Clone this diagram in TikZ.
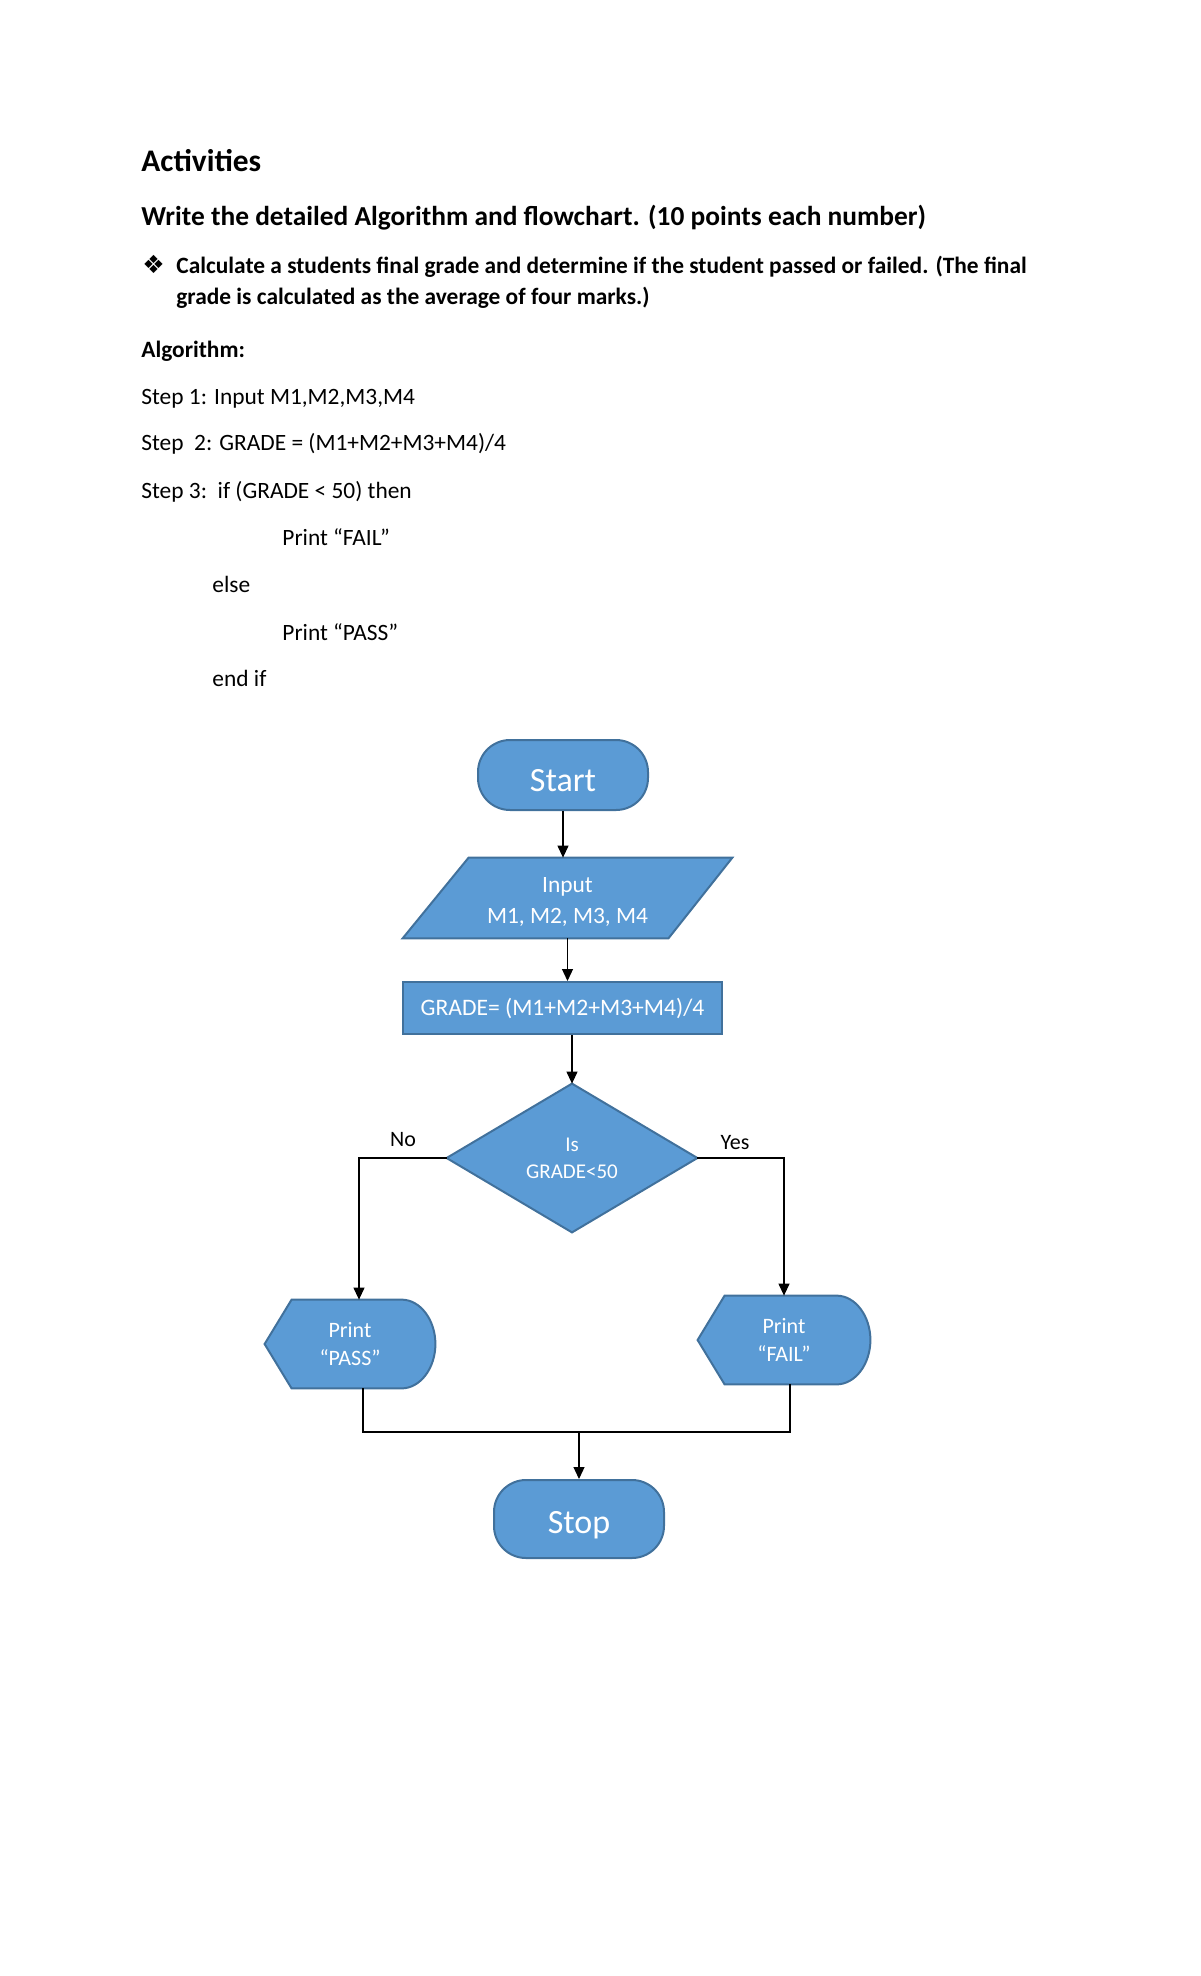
\documentclass[tikz,border=0pt]{standalone}
\usepackage{fontspec}
\setmainfont{Carlito}
\newfontfamily\dejavu{DejaVu Sans}
\usetikzlibrary{calc,arrows.meta}
\definecolor{boxfill}{HTML}{5B9BD5}
\definecolor{boxline}{HTML}{41719C}
\begin{document}
\begin{tikzpicture}[x=0.5pt,y=-0.5pt,
  txt/.style={anchor=base west,inner sep=0pt,font=\fontsize{11.7}{14}\selectfont},
  btxt/.style={txt,font=\fontsize{11.7}{14}\selectfont\bfseries},
  shapebox/.style={fill=boxfill,draw=boxline,line width=1pt},
  hold/.style={draw=none,inner sep=0pt,text=white,align=center},
  term/.style={shapebox,rounded corners=16pt,inner sep=0pt,text=white,text height=16pt,text depth=0pt},
  conn/.style={line width=0.6pt,-{Triangle[length=6pt,width=5.5pt]}},
  plain/.style={line width=0.6pt},
  lbl/.style={inner sep=0pt,font=\fontsize{11}{13}\selectfont}]
\useasboundingbox (0,0) rectangle (1200,1976);
% ---- text ----
\node[txt,font=\fontsize{15.7}{18}\selectfont\bfseries] (t0) at (141,171) {Activities};
\node[txt,font=\fontsize{13.7}{16}\selectfont\bfseries] (t1) at (141,225) {Write the detailed Algorithm and flowchart. (10 points each number)};
\node[txt] (bul) at (142,273) {\dejavu\fontsize{12.5}{14}\selectfont ❖};
\node[btxt] (t2) at (176,273) {Calculate a students final grade and determine if the student passed or failed. (The final};
\node[btxt] (t3) at (176,304) {grade is calculated as the average of four marks.)};
\node[btxt] (t4) at (141,357) {Algorithm:};
\node[txt] (s1) at (141,404) {Step 1: Input M1,M2,M3,M4};
\node[txt] (s2) at (141,450) {Step\ \ 2: GRADE = (M1+M2+M3+M4)/4};
\node[txt] (s3) at (141,498) {Step 3:\ \ if (GRADE < 50) then};
\node[txt] (s4) at (282,545) {Print “FAIL”};
\node[txt] (s5) at (212,592) {else};
\node[txt] (s6) at (282,640) {Print “PASS”};
\node[txt] (s7) at (212,686) {end if};
% ---- flowchart ----
\node[term,minimum width=85pt,minimum height=35pt,font=\fontsize{17}{20}\selectfont] (start) at (563,775) {Start};
\node[hold,minimum width=164.5pt,minimum height=40pt] (inp) at (567.5,898) {};
\draw[shapebox] (inp.south west) -- ($(inp.north west)+(66,0)$) -- (inp.north east) -- ($(inp.south east)+(-64,0)$) -- cycle;
\node[hold,font=\fontsize{11.7}{15.5}\selectfont,yshift=-2pt] (inptext) at (inp.center) {Input\\M1, M2, M3, M4};
\node[shapebox,inner sep=0pt,minimum width=159.5pt,minimum height=26pt,text=white,font=\fontsize{11.8}{14}\selectfont] (grade) at (562.5,1008) {GRADE= (M1+M2+M3+M4)/4};
\node[hold,minimum width=125pt,minimum height=74pt] (dec) at (572,1158) {};
\draw[shapebox] (dec.north) -- (dec.east) -- (dec.south) -- (dec.west) -- cycle;
\node[hold,font=\fontsize{10.5}{13.5}\selectfont] (dectext) at (dec.center) {Is\\GRADE<50};
% display shapes
\node[hold,minimum width=85pt,minimum height=44pt] (pass) at (350,1344) {};
\draw[shapebox] (pass.west) -- ($(pass.north west)+(27,0)$) -- ($(pass.north east)+(-34,0)$)
  .. controls ($(pass.north east)+(-15,0)$) and ($(pass.east)+(0,-24)$) .. (pass.east)
  .. controls ($(pass.east)+(0,24)$) and ($(pass.south east)+(-15,0)$) .. ($(pass.south east)+(-34,0)$)
  -- ($(pass.south west)+(27,0)$) -- cycle;
\node[hold,font=\fontsize{11}{14}\selectfont] (passtext) at (pass.center) {Print\\“PASS”};
\node[hold,minimum width=86pt,minimum height=44pt] (fail) at (784,1340) {};
\draw[shapebox] (fail.west) -- ($(fail.north west)+(27,0)$) -- ($(fail.north east)+(-34,0)$)
  .. controls ($(fail.north east)+(-15,0)$) and ($(fail.east)+(0,-24)$) .. (fail.east)
  .. controls ($(fail.east)+(0,24)$) and ($(fail.south east)+(-15,0)$) .. ($(fail.south east)+(-34,0)$)
  -- ($(fail.south west)+(27,0)$) -- cycle;
\node[hold,font=\fontsize{11}{14}\selectfont] (failtext) at (fail.center) {Print\\“FAIL”};
\node[term,text height=14.5pt,minimum width=85pt,minimum height=39pt,font=\fontsize{17}{20}\selectfont] (stop) at (579,1519) {Stop};
% ---- connectors ----
\draw[conn] (start.south) -- (start.south |- inp.north);
\draw[conn] (inp.south) -- (inp.south |- grade.north);
\draw[conn] (grade.south -| dec.north) -- (dec.north);
\draw[conn] (dec.west) -| ($(pass.north)+(9,0)$);
\draw[conn] (dec.east) -| (fail.north);
\coordinate (m) at (579,1432);
\draw[plain] ($(pass.south)+(13,0)$) |- (m) -| ($(fail.south)+(6,0)$);
\draw[conn] (m) -- (stop.north);
\node[lbl] (no) at (403,1140) {No};
\node[lbl] (yes) at (735,1143) {Yes};
\end{tikzpicture}
\end{document}
